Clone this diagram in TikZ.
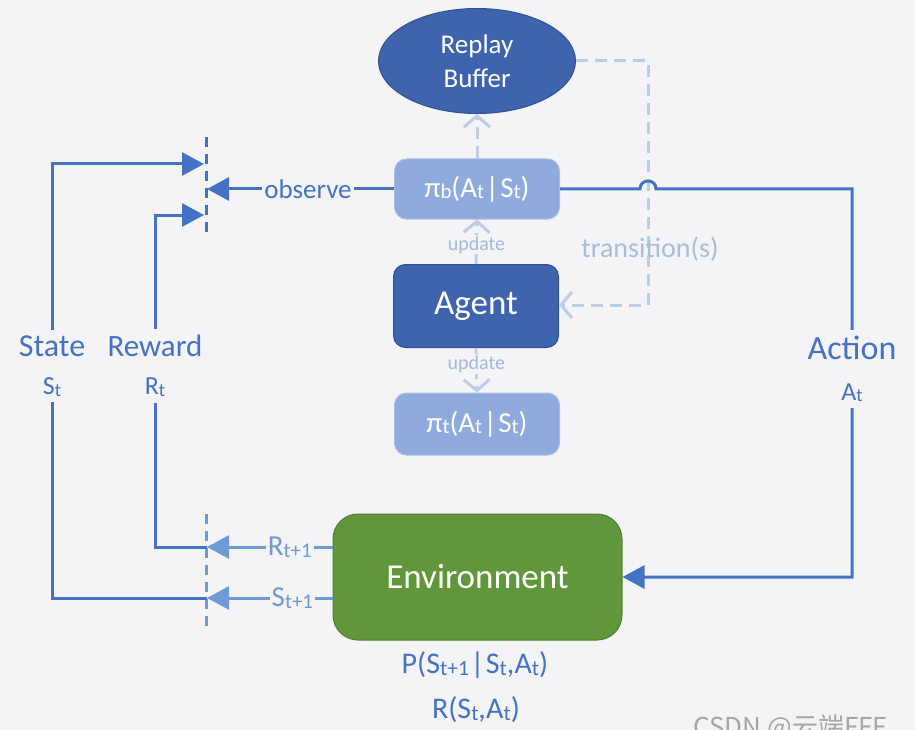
\documentclass[tikz,border=0pt]{standalone}
\usepackage{fontspec}
\usepackage{graphicx}
\setmainfont{Carlito}
\newfontfamily\cjkfont{Noto Sans CJK SC}
\usetikzlibrary{arrows.meta,shapes.geometric}
\definecolor{bg}{HTML}{F4F4F6}
\definecolor{mainblue}{HTML}{4472C4}
\definecolor{lightarrow}{HTML}{6E9BD4}
\definecolor{dashblue}{HTML}{BCCDE8}
\definecolor{polfill}{HTML}{8FAADC}
\definecolor{poledge}{HTML}{A9BEE3}
\definecolor{darkfill}{HTML}{3F64AE}
\definecolor{darkedge}{HTML}{2F528F}
\definecolor{envfill}{HTML}{5F973A}
\definecolor{envedge}{HTML}{507E32}
\definecolor{updtext}{HTML}{A6B9D8}
\definecolor{trtext}{HTML}{A9BDDC}
\newcommand{\sbs}[1]{\raisebox{-0.06em}{\scalebox{0.72}{#1}}}
\newcommand{\vb}{\kern1.5pt|\kern1.5pt}
\tikzset{
  mainline/.style={draw=mainblue, line width=3pt},
  lightline/.style={draw=lightarrow, line width=3pt},
  dline/.style={draw=dashblue, line width=3pt, dash pattern=on 12pt off 7pt},
  sepline/.style={draw=mainblue, line width=3pt, dash pattern=on 10pt off 7pt},
  tri/.tip={Triangle[length=22pt,width=23pt]},
  chev/.tip={Straight Barb[length=11pt,width=26pt,line width=3pt]},
  policy/.style={rectangle, rounded corners=12pt, fill=polfill, draw=poledge, line width=1pt,
    minimum width=165pt, text=white, font=\fontsize{29}{32}\selectfont, inner sep=0pt},
  darkbox/.style={fill=darkfill, draw=darkedge, line width=1pt, text=white, inner sep=0pt},
  lbl/.style={fill=bg, inner sep=2pt, text=mainblue},
  updlbl/.style={fill=bg, inner sep=1pt, text=updtext, font=\fontsize{20}{22}\selectfont},
  outlbl/.style={fill=bg, inner sep=2pt, text=lightarrow, font=\fontsize{29}{30}\selectfont},
  sidelbl/.style={fill=bg, inner xsep=3pt, inner ysep=6pt, text=mainblue, align=center}
}
\begin{document}
\begin{tikzpicture}[x=1pt,y=-1pt]
\fill[bg] (0,0) rectangle (915,730);
\useasboundingbox (0,0) rectangle (915,730);

% nodes
\node[ellipse, darkbox, minimum width=197pt, minimum height=105pt, align=center,
  font=\fontsize{27}{34}\selectfont] (buf) at (477,61) {Replay\\Buffer};
\node[policy, minimum height=60pt] (pib) at (477,189) {π\sbs{b}(A\sbs{t}\vb S\sbs{t})};
\node[darkbox, rectangle, rounded corners=12pt, minimum width=165pt, minimum height=83pt,
  font=\fontsize{35}{40}\selectfont] (agent) at (476,306) {Agent};
\node[policy, minimum height=62pt] (pit) at (477,424) {π\sbs{t}(A\sbs{t}\vb S\sbs{t})};
\node[rectangle, rounded corners=25pt, fill=envfill, draw=envedge, line width=1pt,
  minimum width=289pt, minimum height=126pt, text=white,
  font=\fontsize{35}{40}\selectfont] (env) at (477.5,577) {Environment};
\node[text=mainblue, font=\fontsize{30}{32}\selectfont] (pform) at (475,665)
  {P(S\sbs{t+1}\vb S\sbs{t},A\sbs{t})};
\node[text=mainblue, font=\fontsize{30}{32}\selectfont] (rform) at (476,710)
  {R(S\sbs{t},A\sbs{t})};

% coordinates
\coordinate (obsT) at (207,189);
\coordinate (stT) at (204,164);
\coordinate (rwT) at (204,215);
\coordinate (rT) at (207,547);
\coordinate (sT) at (207,598);
\coordinate (sepTa) at (206,137);
\coordinate (sepTb) at (206,238);
\coordinate (sepBa) at (206,514);
\coordinate (sepBb) at (206,630);

% separators
\draw[sepline] (sepTa) -- (sepTb);
\draw[sepline, draw=lightarrow] (sepBa) -- (sepBb);

% dashed agent connections
\draw[dline, -{chev}] (pib.north) -- (buf.south);
\draw[dline, -{chev}] (buf.east) -- (648,61) -- (648,305) -- (agent.east |- 0,305);
\draw[dline, -{chev}] (agent.north) -- node[updlbl, pos=0.43] (upd1) {update} (pib.south);
\draw[dline, -{chev}] (agent.south) -- node[updlbl, pos=0.36] (upd2) {update} (pit.north);
\node[text=trtext, font=\fontsize{28}{30}\selectfont] (trans) at (650,249) {transition(s)};

% observe
\draw[mainline, -{tri}] (pib.west) -- node[lbl, pos=0.46, font=\fontsize{27}{30}\selectfont] (obs) {observe} (obsT);

% action
\draw[mainline, -{tri}] (pib.east) -- (640,189) .. controls (640,178.3) and (656,178.3) .. (656,189)
  -- (852,189) -- (852,577) -- (env.east);
\node[sidelbl, font=\fontsize{34}{38}\selectfont] (act) at (852,369)
  {Action\\[3pt]{\fontsize{26}{30}\selectfont A\sbs{t}}};

% environment outputs
\draw[lightline, -{tri}] (env.west |- rT) -- node[outlbl, pos=0.34] (rlab) {R\sbs{t+1}} (rT);
\draw[lightline, -{tri}] (env.west |- sT) -- node[outlbl, pos=0.32] (slab) {S\sbs{t+1}} (sT);

% state and reward feedback
\draw[mainline, -{tri}] (sT) -- (52,598) -- (52,164) -- (stT);
\draw[mainline, -{tri}] (rT) -- (155,547) -- (155,215) -- (rwT);
\node[sidelbl, font=\fontsize{32}{38}\selectfont] (state) at (52,366)
  {State\\[0pt]{\fontsize{26}{30}\selectfont S\sbs{t}}};
\node[sidelbl, font=\fontsize{31}{38}\selectfont] (reward) at (155,366)
  {Reward\\[0pt]{\fontsize{26}{30}\selectfont R\sbs{t}}};

% watermark
\node[text=black!35, font=\cjkfont\fontsize{26}{28}\selectfont, anchor=base west] (wm) at (690,736) {CSDN @云端FFF};
\end{tikzpicture}
\end{document}
